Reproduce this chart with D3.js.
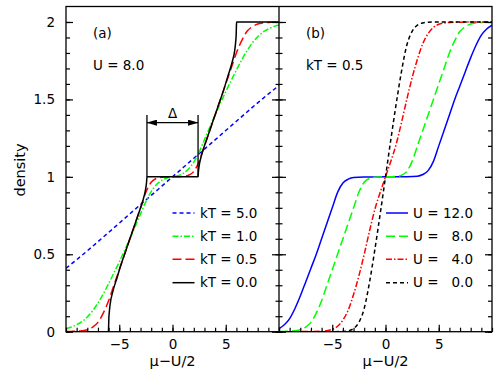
<!DOCTYPE html>
<html>
<head>
<meta charset="utf-8">
<script src="https://cdn.jsdelivr.net/npm/d3@7"></script>
<style>
  body { margin: 0; background: #fff; }
  svg text { font-family: "DejaVu Sans", sans-serif; fill: #000; }
</style>
</head>
<body>
<div class="content"></div>
<script>
// panel (a): U = 8.0, different temperatures   [mu - U/2, density]
var kT50 = [[-10,0.41],[-9,0.465],[-8,0.522],[-7,0.581],[-6,0.641],[-5,0.701],[-4,0.761],[-3,0.821],[-2,0.88],[-1,0.94],
  [0,1],[1,1.06],[2,1.12],[3,1.179],[4,1.239],[5,1.299],[6,1.359],[7,1.419],[8,1.478],[9,1.535],[10,1.59]];
var kT10 = [[-10,0.02],[-9.5,0.03],[-9,0.045],[-8.5,0.065],[-8,0.095],[-7.5,0.135],[-7,0.185],[-6.5,0.245],[-6,0.31],[-5.5,0.38],
  [-5,0.45],[-4.5,0.525],[-4,0.6],[-3.5,0.68],[-3,0.76],[-2.5,0.84],[-2,0.905],[-1.5,0.95],[-1,0.978],[-0.5,0.993],[0,1],
  [0.5,1.007],[1,1.022],[1.5,1.05],[2,1.095],[2.5,1.16],[3,1.24],[3.5,1.32],[4,1.4],[4.5,1.475],[5,1.55],[5.5,1.62],
  [6,1.69],[6.5,1.755],[7,1.815],[7.5,1.865],[8,1.905],[8.5,1.935],[9,1.955],[9.5,1.97],[10,1.98]];
var kT05 = [[-10,0.001],[-9.5,0.002],[-9,0.003],[-8.5,0.006],[-8,0.013],[-7.5,0.03],[-7,0.06],[-6.5,0.12],[-6,0.2],[-5.5,0.3],
  [-5,0.4],[-4.5,0.5],[-4,0.6],[-3.5,0.7],[-3,0.8],[-2.5,0.9],[-2,0.965],[-1.5,0.99],[-1,0.997],[-0.5,0.999],[0,1],
  [0.5,1.001],[1,1.003],[1.5,1.01],[2,1.035],[2.5,1.1],[3,1.2],[3.5,1.3],[4,1.4],[4.5,1.5],[5,1.6],[5.5,1.7],
  [6,1.8],[6.5,1.88],[7,1.94],[7.5,1.97],[8,1.987],[8.5,1.994],[9,1.997],[9.5,1.998],[10,1.999]];
var kT00 = [[-10,0],[-6.02,0],[-6,0.03],[-5.98,0.08],[-5.93,0.13],[-5.85,0.18],[-5.6,0.26],[-5.2,0.35],[-4.8,0.44],[-4.4,0.52],
  [-4,0.6],[-3.6,0.68],[-3.2,0.76],[-2.9,0.82],[-2.65,0.88],[-2.5,0.93],[-2.43,0.97],[-2.4,1],[2.4,1],[2.43,1.03],
  [2.5,1.07],[2.65,1.12],[2.9,1.18],[3.2,1.24],[3.6,1.32],[4,1.4],[4.4,1.48],[4.8,1.56],[5.2,1.65],[5.6,1.74],
  [5.85,1.82],[5.93,1.87],[5.98,1.92],[6,1.97],[6.02,2],[10,2]];

// panel (b): kT = 0.5, different U  (U = 8.0 is the same curve as kT05)
var U12 = [[-10,0.02],[-9.5,0.045],[-9,0.085],[-8.5,0.15],[-8,0.23],[-7.5,0.32],[-7,0.41],[-6.5,0.5],[-6,0.6],[-5.5,0.7],
  [-5,0.8],[-4.5,0.9],[-4,0.96],[-3.5,0.985],[-3,0.996],[-2,0.999],[0,1],[2,1.001],[3,1.004],[3.5,1.015],[4,1.04],
  [4.5,1.1],[5,1.2],[5.5,1.3],[6,1.4],[6.5,1.5],[7,1.59],[7.5,1.68],[8,1.77],[8.5,1.85],[9,1.915],[9.5,1.955],[10,1.98]];
var U4 = [[-10,0],[-7,0.001],[-6,0.003],[-5,0.015],[-4.5,0.035],[-4,0.075],[-3.5,0.14],[-3,0.24],[-2.5,0.36],[-2,0.5],
  [-1.5,0.65],[-1,0.79],[-0.5,0.9],[-0.25,0.95],[0,1],[0.25,1.05],[0.5,1.1],[1,1.21],[1.5,1.35],[2,1.5],[2.5,1.64],
  [3,1.76],[3.5,1.86],[4,1.925],[4.5,1.965],[5,1.985],[6,1.997],[7,1.999],[10,2]];
var U0 = [[-10,0],[-5,0],[-4,0.002],[-3.5,0.006],[-3,0.02],[-2.5,0.06],[-2,0.15],[-1.5,0.32],[-1,0.53],[-0.5,0.76],[0,1],
  [0.5,1.24],[1,1.47],[1.5,1.68],[2,1.85],[2.5,1.94],[3,1.98],[3.5,1.994],[4,1.998],[5,2],[10,2]];

var gapEdge = 2.4;  // half of Delta for U = 8, kT = 0
var xTicks = [-5, 0, 5];
var yTicks = [0, 0.5, 1, 1.5, 2];

var padL = 66, padM = 279, padR = 492, padT = 6.5, padB = 331.7;

var svg = d3.select(".content")
  .append("svg")
  .attr("width", 500)
  .attr("height", 374);

var xa = d3.scaleLinear().domain([-10, 10]).range([padL, padM]);
var xb = d3.scaleLinear().domain([-10, 10]).range([padM, padR]);
var y = d3.scaleLinear().domain([0, 2.1]).range([padB, padT]);

var defs = svg.append("defs");
defs.append("clipPath").attr("id", "clipA")
  .append("rect").attr("x", padL).attr("y", padT).attr("width", padM - padL).attr("height", padB - padT);
defs.append("clipPath").attr("id", "clipB")
  .append("rect").attr("x", padM).attr("y", padT).attr("width", padR - padM).attr("height", padB - padT);
defs.append("marker")
  .attr("id", "arrow")
  .attr("viewBox", "0 0 10 6")
  .attr("refX", 10).attr("refY", 3)
  .attr("markerWidth", 10).attr("markerHeight", 6)
  .attr("markerUnits", "userSpaceOnUse")
  .attr("orient", "auto-start-reverse")
  .append("path")
  .attr("d", "M0,0L10,3L0,6Z")
  .attr("fill", "#000");

var dashShort = "4,3", dashLong = "9,4", dashDot = "6,2,1.5,2";

var seriesA = [
  {data: kT50, color: "#0000ff", dash: dashShort, label: "kT = 5.0"},
  {data: kT10, color: "#00ff00", dash: dashDot, label: "kT = 1.0"},
  {data: kT05, color: "#ff0000", dash: dashLong, label: "kT = 0.5"},
  {data: kT00, color: "#000000", dash: null, label: "kT = 0.0"}
];
var seriesB = [
  {data: U12, color: "#0000ff", dash: null, label: "U = ", num: "12.0"},
  {data: kT05, color: "#00ff00", dash: dashLong, label: "U = ", num: "8.0"},
  {data: U4, color: "#ff0000", dash: dashDot, label: "U = ", num: "4.0"},
  {data: U0, color: "#000000", dash: dashShort, label: "U = ", num: "0.0"}
];

function drawCurves(series, x, clip) {
  var line = d3.line()
    .x(function(d) { return x(d[0]); })
    .y(function(d) { return y(d[1]); })
    .curve(d3.curveMonotoneX);
  svg.append("g")
    .attr("clip-path", "url(#" + clip + ")")
    .selectAll("path")
    .data(series)
    .enter()
    .append("path")
    .attr("d", function(d) { return line(d.data); })
    .attr("fill", "none")
    .attr("stroke", function(d) { return d.color; })
    .attr("stroke-width", 1.5)
    .attr("stroke-dasharray", function(d) { return d.dash; });
}
drawCurves(seriesA, xa, "clipA");
drawCurves(seriesB, xb, "clipB");

// axes
function styleAxis(g) {
  g.select(".domain").remove();
  g.selectAll("line").attr("stroke", "#000").attr("stroke-width", 1.2);
  g.selectAll("text").style("font-size", "13.5px").style("font-family", "DejaVu Sans");
}
var yMinor = d3.range(0, 21).map(function(i) { return i / 10; });
var xMinor = d3.range(-10, 11);

svg.append("g").attr("transform", "translate(" + padL + ",0)")
  .call(d3.axisLeft(y).tickValues(yTicks).tickSizeInner(-7).tickSizeOuter(0).tickPadding(11)
    .tickFormat(function(d) { return d; }))
  .call(styleAxis);
svg.append("g").attr("transform", "translate(" + padL + ",0)")
  .call(d3.axisRight(y).tickValues(yMinor).tickSize(4).tickFormat(""))
  .call(styleAxis);

// the divider between the panels carries ticks on both sides
svg.append("g").attr("transform", "translate(" + padM + ",0)")
  .call(d3.axisLeft(y).tickValues(yTicks).tickSize(7).tickFormat("")).call(styleAxis);
svg.append("g").attr("transform", "translate(" + padM + ",0)")
  .call(d3.axisRight(y).tickValues(yTicks).tickSize(7).tickFormat("")).call(styleAxis);
svg.append("g").attr("transform", "translate(" + padM + ",0)")
  .call(d3.axisLeft(y).tickValues(yMinor).tickSize(3.5).tickFormat("")).call(styleAxis);
svg.append("g").attr("transform", "translate(" + padM + ",0)")
  .call(d3.axisRight(y).tickValues(yMinor).tickSize(3.5).tickFormat("")).call(styleAxis);

svg.append("g").attr("transform", "translate(" + padR + ",0)")
  .call(d3.axisLeft(y).tickValues(yTicks).tickSize(7).tickFormat("")).call(styleAxis);
svg.append("g").attr("transform", "translate(" + padR + ",0)")
  .call(d3.axisLeft(y).tickValues(yMinor).tickSize(4).tickFormat("")).call(styleAxis);

[xa, xb].forEach(function(x) {
  svg.append("g").attr("transform", "translate(0," + padB + ")")
    .call(d3.axisBottom(x).tickValues(xTicks).tickSizeInner(-7).tickSizeOuter(0).tickPadding(7.5))
    .call(styleAxis);
  svg.append("g").attr("transform", "translate(0," + padB + ")")
    .call(d3.axisTop(x).tickValues(xMinor).tickSize(4).tickFormat(""))
    .call(styleAxis);
  svg.append("text")
    .attr("x", (x.range()[0] + x.range()[1]) / 2)
    .attr("y", 366)
    .attr("text-anchor", "middle")
    .style("font-size", "14.5px")
    .text("\u03bc\u2212U/2");
});

// frames
svg.append("rect").attr("x", padL).attr("y", padT).attr("width", padR - padL).attr("height", padB - padT)
  .attr("fill", "none").attr("stroke", "#000").attr("stroke-width", 1.3);
svg.append("line").attr("x1", padM).attr("x2", padM).attr("y1", padT).attr("y2", padB)
  .attr("stroke", "#000").attr("stroke-width", 1.3);

svg.append("text")
  .attr("transform", "translate(25,170) rotate(-90)")
  .attr("text-anchor", "middle")
  .style("font-size", "14.5px")
  .text("density");

// panel labels
function label(px, py, s) {
  svg.append("text").attr("x", px).attr("y", py)
    .style("font-size", "13.5px").style("white-space", "pre").text(s);
}
label(93, 38, "(a)");
label(93, 70, "U = 8.0");
label(306, 38, "(b)");
label(306, 70, "kT = 0.5");

// Delta annotation
var gapG = svg.append("g").attr("stroke", "#000").attr("stroke-width", 1.3);
[-gapEdge, gapEdge].forEach(function(g) {
  gapG.append("line")
    .attr("x1", xa(g)).attr("x2", xa(g))
    .attr("y1", y(1)).attr("y2", y(1.4));
});
gapG.append("line")
  .attr("x1", xa(-gapEdge)).attr("x2", xa(gapEdge))
  .attr("y1", y(1.35)).attr("y2", y(1.35))
  .attr("marker-start", "url(#arrow)")
  .attr("marker-end", "url(#arrow)");
svg.append("text")
  .attr("x", xa(0)).attr("y", y(1.35) - 4.5)
  .attr("text-anchor", "middle")
  .style("font-size", "13.5px")
  .text("\u0394");

// legends
function legend(series, lx, tx, numX) {
  var rows = [213, 236.3, 259.3, 282.7];
  series.forEach(function(s, i) {
    svg.append("line")
      .attr("x1", lx).attr("x2", lx + 22)
      .attr("y1", rows[i]).attr("y2", rows[i])
      .attr("stroke", s.color).attr("stroke-width", 1.5)
      .attr("stroke-dasharray", s.dash);
    svg.append("text").attr("x", tx).attr("y", rows[i] + 4.5)
      .style("font-size", "13.5px").style("white-space", "pre").text(s.label);
    if (s.num) {
      svg.append("text").attr("x", numX).attr("y", rows[i] + 4.5)
        .attr("text-anchor", "end")
        .style("font-size", "13.5px").text(s.num);
    }
  });
}
legend(seriesA, 172.5, 200);
legend(seriesB, 386, 413, 473);
</script>
</body>
</html>
